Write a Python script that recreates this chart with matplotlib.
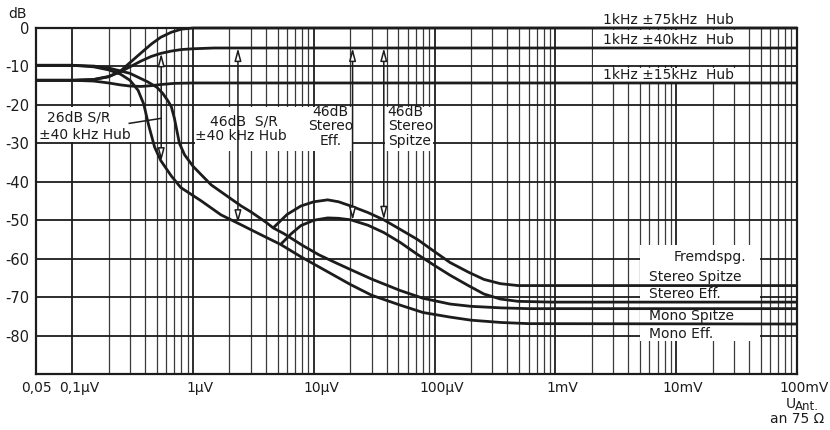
import numpy as np
import matplotlib
matplotlib.use('Agg')
import matplotlib.pyplot as plt
from matplotlib.ticker import FixedLocator, NullFormatter
import matplotlib.transforms as mtransforms

plt.rcParams['font.family'] = ['DejaVu Sans']

# antenna voltage in microvolt, level in dB
x_75 = [0.05, 0.1, 0.15, 0.2, 0.25, 0.3, 0.37, 0.45, 0.54, 0.66, 0.8, 1.0, 1e5]
y_75 = [-13.6, -13.6, -13.4, -12.7, -11.2, -9.0, -6.5, -4.2, -2.4, -1.1, -0.3, 0.0, 0.0]

x_40 = [0.05, 0.1, 0.15, 0.2, 0.25, 0.3, 0.37, 0.45, 0.54, 0.66, 0.8, 1.0, 1.5, 1e5]
y_40 = [-13.6, -13.6, -13.4, -12.6, -11.4, -10.1, -8.6, -7.4, -6.6, -6.0, -5.6, -5.4, -5.2, -5.2]

x_15 = [0.05, 0.1, 0.15, 0.2, 0.25, 0.3, 0.37, 0.45, 0.54, 0.7, 1.0, 1e5]
y_15 = [-13.6, -13.6, -13.8, -14.3, -14.8, -15.1, -15.2, -15.0, -14.7, -14.4, -14.3, -14.3]

x_mono_sp = [0.05, 0.1, 0.15, 0.2, 0.3, 0.42, 0.5, 0.56, 0.62, 0.66, 0.7, 0.77, 0.85, 1.0,
             1.17, 1.41, 1.7, 2.5, 3.0, 4.0, 4.6, 5.65, 8, 11, 15, 20, 30, 52, 80, 134,
             200, 355, 600, 1e5]
y_mono_sp = [-9.7, -9.7, -9.9, -10.4, -11.8, -14.0, -15.4, -17.0, -19.0, -20.5, -23.5, -30.0,
             -33.0, -36.0, -38.2, -40.8, -42.6, -46.3, -47.8, -50.5, -52.0, -53.5, -56.5,
             -59.0, -61.0, -62.8, -65.3, -68.3, -70.3, -71.8, -72.4, -72.8, -73.0, -73.0]

x_mono_eff = [0.05, 0.1, 0.15, 0.2, 0.25, 0.3, 0.35, 0.39, 0.43, 0.48, 0.54, 0.66, 0.79,
              1.17, 1.7, 2.5, 3.6, 5.3, 7.8, 12, 20, 30, 52, 80, 134, 200, 355, 600, 1e5]
y_mono_eff = [-9.7, -9.7, -10.1, -10.9, -12.0, -13.6, -16.2, -19.8, -25.5, -31.0, -34.5,
              -38.5, -41.5, -45.0, -48.6, -51.2, -53.7, -56.3, -59.5, -62.8, -66.7, -69.5,
              -72.1, -74.0, -75.2, -76.0, -76.6, -76.9, -77.0]

x_st_sp = [4.6, 6.0, 7.8, 10, 13, 16, 20.2, 28, 37.9, 52, 72, 100, 134, 190, 256, 350, 490, 940, 1e5]
y_st_sp = [-52.0, -48.5, -46.3, -45.2, -44.7, -45.2, -46.3, -48.0, -49.9, -52.4, -55.0,
           -58.2, -61.0, -63.5, -65.4, -66.5, -67.0, -67.0, -67.0]

x_st_eff = [5.3, 6.5, 7.8, 10, 13, 16, 20.2, 28, 37.9, 52, 72, 100, 134, 190, 256, 350, 490, 940, 1e5]
y_st_eff = [-56.3, -53.5, -51.4, -50.0, -49.4, -49.5, -49.9, -51.3, -53.2, -55.8, -58.9,
            -61.8, -64.3, -67.0, -69.2, -70.5, -71.1, -71.3, -71.3]

# double arrows (x position), 26 dB / 46 dB distances
arrow_x = [0.544, 2.35, 20.9, 37.9]
arrow_ref = ['mono_eff', 'mono_eff', 'st_eff', 'st_sp']

leader_x = [0.296, 0.544]
leader_y = [-24.8, -23.5]

xtick_vals = [0.05, 0.1, 1, 10, 100, 1e3, 1e4, 1e5]
xtick_labels = ['0,05', '0,1µV', '1µV', '10µV', '100µV', '1mV', '10mV', '100mV']
ytick_vals = [0, -10, -20, -30, -40, -50, -60, -70, -80]
ytick_labels = ['0', '-10', '-20', '-30', '-40', '-50', '-60', '-70', '-80']

curves = {'75': (x_75, y_75), '40': (x_40, y_40), '15': (x_15, y_15),
          'mono_sp': (x_mono_sp, y_mono_sp), 'mono_eff': (x_mono_eff, y_mono_eff),
          'st_sp': (x_st_sp, y_st_sp), 'st_eff': (x_st_eff, y_st_eff)}


def level_at(name, v):
    xs, ys = curves[name]
    return np.interp(np.log10(v), np.log10(xs), ys)


fig = plt.figure(figsize=(8.3, 4.3), dpi=100)
ax = fig.add_axes([36/830, 1-374/430, 761/830, 346/430])
ax.set_xscale('log')
ax.set_xlim(0.05, 1e5)
ax.set_ylim(-90, 0)

ink = '#1c1c1c'

# log grid, no minor lines below 0.1 µV
minor = [d*k for d in [0.1, 1, 10, 100, 1e3, 1e4] for k in range(2, 10)]
ax.xaxis.set_major_locator(FixedLocator(xtick_vals))
ax.xaxis.set_minor_locator(FixedLocator(minor))
ax.xaxis.set_major_formatter(NullFormatter())
ax.xaxis.set_minor_formatter(NullFormatter())
ax.set_yticks(ytick_vals)
ax.set_yticklabels(ytick_labels, fontsize=10.5, color=ink)
ax.tick_params(which='both', length=0)
ax.tick_params(axis='y', pad=5)
ax.set_axisbelow(True)
ax.grid(which='major', axis='both', color=ink, lw=1.3)
ax.grid(which='minor', axis='x', color='#3a3a3a', lw=0.9)
for s in ax.spines.values():
    s.set_color(ink)
    s.set_linewidth(1.6)

# white label fields that cut the grid
masks = [(0.051, 0.385, -20.45, -29.55),
         (1.03, 20.5, -20.45, -32.0),
         (38.6, 97.0, -20.45, -32.0),
         (2040, 39200, -0.45, -9.55),
         (2040, 39200, -10.45, -14.0),
         (5060, 49400, -56.5, -81.5)]
for x0, x1, y0, y1 in masks:
    ax.fill_between([x0, x1], y0, y1, color='white', lw=0, zorder=2)

for name, (xs, ys) in curves.items():
    ax.plot(xs, ys, color=ink, lw=2.0, zorder=3, clip_on=False, solid_capstyle='butt')

for xa, ref in zip(arrow_x, arrow_ref):
    top = level_at('40', xa)
    bot = level_at(ref, xa)
    ax.annotate('', xy=(xa, top), xytext=(xa, bot), zorder=4,
                arrowprops=dict(arrowstyle='<|-|>,head_length=0.75,head_width=0.2',
                                color=ink, fc='white', lw=1.1, shrinkA=0, shrinkB=0))

ax.plot(leader_x, leader_y, color=ink, lw=1.1, zorder=4)

fs = 10
tk = dict(fontsize=fs, color=ink, zorder=5)
ax.text(0.112, -23.3, '26dB S/R', ha='center', va='center', **tk)
ax.text(0.126, -27.9, '±40 kHz Hub', ha='center', va='center', **tk)
ax.text(2.63, -24.3, '46dB  S/R', ha='center', va='center', **tk)
ax.text(2.49, -28.0, '±40 kHz Hub', ha='center', va='center', **tk)
for yy, tt in zip([-21.8, -25.6, -29.5], ['46dB', 'Stereo', 'Eff.']):
    ax.text(13.8, yy, tt, ha='center', va='center', **tk)
for yy, tt in zip([-21.8, -25.6, -29.5], ['46dB', 'Stereo', 'Spitze']):
    ax.text(40.8, yy, tt, ha='left', va='center', **tk)

ax.text(2460, 0.3, '1kHz ±75kHz  Hub', ha='left', va='bottom', clip_on=False, **tk)
ax.text(2460, -4.9, '1kHz ±40kHz  Hub', ha='left', va='bottom', **tk)
ax.text(2460, -14.0, '1kHz ±15kHz  Hub', ha='left', va='bottom', **tk)

ax.text(19000, -59.6, 'Fremdspg.', ha='center', va='center', **tk)
ax.text(6000, -66.7, 'Stereo Spitze', ha='left', va='bottom', **tk)
ax.text(6000, -71.1, 'Stereo Eff.', ha='left', va='bottom', **tk)
ax.text(6000, -76.7, 'Mono Spitze', ha='left', va='bottom', **tk)
ax.text(6000, -79.6, 'Mono Eff.', ha='left', va='center', **tk)

# x labels, number centred on its grid line
blend = mtransforms.blended_transform_factory(ax.transData, ax.transAxes)
for i, (v, lab) in enumerate(zip(xtick_vals, xtick_labels)):
    dx = 0 if i == 0 else 7/100
    tr = blend + mtransforms.ScaledTranslation(dx, 0, fig.dpi_scale_trans)
    ax.text(v, -0.04, lab, transform=tr, ha='center', va='center', fontsize=10, color=ink)

ax.text(-0.024, 1.04, 'dB', transform=ax.transAxes, ha='center', va='center',
        fontsize=10, color=ink)
fig.text(786/830, 1-404/430, 'U', ha='left', va='center', fontsize=10, color=ink)
fig.text(795/830, 1-406/430, 'Ant.', ha='left', va='center', fontsize=8.5, color=ink)
fig.text(770/830, 1-419/430, 'an 75 Ω', ha='left', va='center', fontsize=10, color=ink)

fig.savefig('out.png', dpi=100)
